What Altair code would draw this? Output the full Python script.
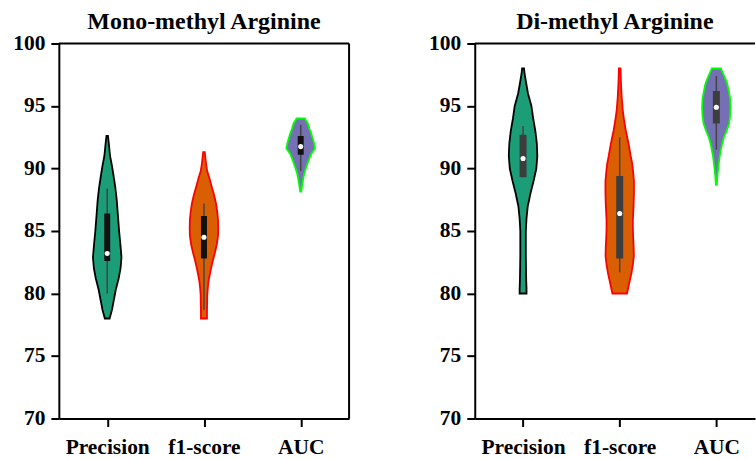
import json
import altair as alt
import pandas as pd

CATEGORIES = ["Precision", "f1-score", "AUC"]
FILL_COLORS = ["#1b9e77", "#d95f02", "#7570b3"]
EDGE_COLORS = ["#000000", "#ff0000", "#00ff00"]
Y_TICKS = [70, 75, 80, 85, 90, 95, 100]

# ---- violin profiles (value level, relative density) ----
MONO_PREC_Y = [78.0, 78.7, 79.5, 80.3, 81.2, 82.0, 82.9, 83.8, 85.0, 86.0, 87.0, 87.5, 88.5, 89.5, 90.2, 91.0, 92.0, 92.6]
MONO_PREC_D = [2.5, 5.0, 7.0, 9.0, 12.0, 14.0, 15.0, 14.0, 12.5, 11.5, 10.5, 10.0, 8.5, 6.5, 5.0, 3.0, 1.7, 0.8]

MONO_F1_Y = [78.0, 78.6, 79.3, 79.9, 80.6, 81.2, 82.0, 82.6, 83.3, 83.9, 84.6, 85.2, 85.9, 86.5, 87.2, 87.9, 88.6, 89.2, 89.8, 90.3, 90.8, 91.3]
MONO_F1_D = [3.0, 3.0, 3.2, 3.3, 4.0, 5.0, 7.0, 8.7, 11.0, 12.7, 14.0, 14.2, 14.0, 13.3, 12.0, 10.0, 7.5, 5.5, 3.2, 2.2, 1.5, 0.8]

MONO_AUC_Y = [88.15, 88.8, 89.2, 89.6, 90.0, 90.4, 90.8, 91.2, 91.6, 92.0, 92.4, 92.8, 93.2, 93.6, 94.0]
MONO_AUC_D = [0.5, 1.7, 2.5, 3.5, 5.0, 6.7, 8.5, 10.5, 14.0, 13.2, 11.8, 10.3, 8.5, 7.0, 4.0]

DI_PREC_Y = [80.0, 80.4, 81.0, 82.0, 83.0, 84.0, 85.0, 86.0, 87.0, 87.5, 88.0, 89.0, 90.0, 91.0, 92.0, 93.0, 94.0, 95.0, 96.0, 97.0, 97.6, 98.0]
DI_PREC_D = [3.5, 3.5, 3.2, 3.0, 2.8, 2.8, 2.8, 3.5, 4.8, 6.2, 7.5, 10.7, 13.5, 14.5, 14.0, 12.5, 10.3, 8.5, 5.0, 2.8, 1.5, 1.0]

DI_F1_Y = [80.0, 80.5, 81.0, 81.6, 82.3, 83.0, 83.7, 84.5, 85.2, 85.9, 86.5, 87.2, 88.0, 89.0, 89.7, 90.4, 91.0, 91.7, 92.4, 93.0, 93.8, 94.7, 95.7, 96.8, 98.0]
DI_F1_D = [7.3, 8.7, 10.0, 11.7, 13.2, 14.2, 14.0, 13.5, 13.2, 13.2, 13.6, 14.0, 14.3, 14.3, 13.5, 12.5, 11.0, 9.5, 7.8, 6.2, 4.5, 3.0, 2.0, 1.3, 0.8]

DI_AUC_Y = [88.7, 89.3, 89.9, 90.4, 91.0, 91.5, 92.0, 92.5, 93.0, 93.6, 94.3, 94.9, 95.6, 96.25, 96.7, 97.05, 97.5, 98.0]
DI_AUC_D = [0.5, 1.0, 1.8, 2.5, 3.5, 4.7, 6.0, 7.8, 10.5, 13.2, 14.3, 14.7, 14.2, 12.7, 11.5, 10.0, 7.5, 4.7]

# ---- inner box stats: [whisker low, q1, median, q3, whisker high] ----
MONO_PREC_BOX = [80.0, 82.6, 83.2, 86.4, 88.4]
MONO_F1_BOX = [78.7, 82.8, 84.5, 86.2, 87.2]
MONO_AUC_BOX = [89.8, 91.1, 91.75, 92.6, 93.5]
DI_PREC_BOX = [89.3, 89.3, 90.8, 92.7, 93.4]
DI_F1_BOX = [81.7, 82.8, 86.4, 89.4, 92.5]
DI_AUC_BOX = [91.5, 93.6, 94.9, 96.2, 97.4]

HALF = 0.1475          # max violin half-width in category units
FONT = "Liberation Serif"
PX_PER_UNIT = 97


def violin_df(profiles):
    rows = []
    for i, (ys, ds) in enumerate(profiles):
        m = max(ds)
        for y, d in zip(ys, ds):
            rows.append({"cat": CATEGORIES[i], "pos": i, "y": y, "w": d / m})
    return pd.DataFrame(rows)


def box_df(boxes):
    rows = []
    for i, b in enumerate(boxes):
        rows.append({"cat": CATEGORIES[i], "pos": i, "lo": b[0], "q1": b[1],
                     "med": b[2], "q3": b[3], "hi": b[4]})
    return pd.DataFrame(rows)


def panel(title, profiles, boxes, xmax, box_color, box_width, right_frame):
    xscale = alt.Scale(domain=[-0.5, xmax], nice=False, zero=False)
    yscale = alt.Scale(domain=[70, 100], nice=False, zero=False)
    xaxis = alt.Axis(values=[0, 1, 2], title=None,
                     labelExpr=json.dumps(CATEGORIES) + "[datum.value]",
                     labelPadding=10)
    yaxis = alt.Axis(values=Y_TICKS, title=None, labelPadding=6)

    vdf = violin_df(profiles)
    bdf = box_df(boxes)

    violins = alt.Chart(vdf).transform_calculate(
        xl=f"datum.pos - datum.w * {HALF}",
        xr=f"datum.pos + datum.w * {HALF}",
    ).mark_area(orient="horizontal", strokeWidth=1.8, opacity=1, fillOpacity=1).encode(
        y=alt.Y("y:Q", scale=yscale, axis=yaxis),
        x=alt.X("xl:Q", scale=xscale, axis=xaxis),
        x2="xr:Q",
        fill=alt.Fill("cat:N", scale=alt.Scale(domain=CATEGORIES, range=FILL_COLORS), legend=None),
        stroke=alt.Stroke("cat:N", scale=alt.Scale(domain=CATEGORIES, range=EDGE_COLORS), legend=None),
    )

    base = alt.Chart(bdf)
    whisk = base.mark_rule(color="#444444", strokeWidth=1.5).encode(
        x=alt.X("pos:Q", scale=xscale), y=alt.Y("lo:Q", scale=yscale), y2="hi:Q")
    box = base.mark_rule(color=box_color, strokeWidth=box_width).encode(
        x=alt.X("pos:Q", scale=xscale), y=alt.Y("q1:Q", scale=yscale), y2="q3:Q")
    med = base.mark_point(filled=True, color="white", size=26, opacity=1).encode(
        x=alt.X("pos:Q", scale=xscale), y=alt.Y("med:Q", scale=yscale))

    one = alt.Chart(pd.DataFrame({"k": [0]}))
    top = one.mark_rule(color="black", strokeWidth=2).encode(
        y=alt.datum(100), x=alt.datum(-0.5), x2=alt.datum(xmax))
    layers = [violins, whisk, box, med, top]
    if right_frame:
        layers.append(one.mark_rule(color="black", strokeWidth=2).encode(
            x=alt.datum(xmax), y=alt.datum(70), y2=alt.datum(100)))

    return alt.layer(*layers).properties(
        width=round((xmax + 0.5) * PX_PER_UNIT),
        height=376,
        title=alt.TitleParams(title, font=FONT, fontSize=24, fontWeight="bold",
                              anchor="middle", offset=-1, color="black"),
    )


left = panel("Mono-methyl Arginine",
             [(MONO_PREC_Y, MONO_PREC_D), (MONO_F1_Y, MONO_F1_D), (MONO_AUC_Y, MONO_AUC_D)],
             [MONO_PREC_BOX, MONO_F1_BOX, MONO_AUC_BOX], 2.5, "#111111", 6, True)
right = panel("Di-methyl Arginine",
              [(DI_PREC_Y, DI_PREC_D), (DI_F1_Y, DI_F1_D), (DI_AUC_Y, DI_AUC_D)],
              [DI_PREC_BOX, DI_F1_BOX, DI_AUC_BOX], 2.4, "#3d3d3d", 7, False)

chart = alt.hconcat(left, right, spacing=78).properties(
    padding={"left": 12, "top": 9, "right": 0, "bottom": 0},
    background="white",
).configure_view(stroke=None).configure_axis(
    labelFont=FONT, labelFontSize=21.5, labelFontWeight="bold", labelColor="black",
    tickColor="black", tickSize=8, tickWidth=2,
    domainColor="black", domainWidth=2, grid=False,
)

chart.save("out.html", embed_options={"renderer": "svg", "actions": False})
